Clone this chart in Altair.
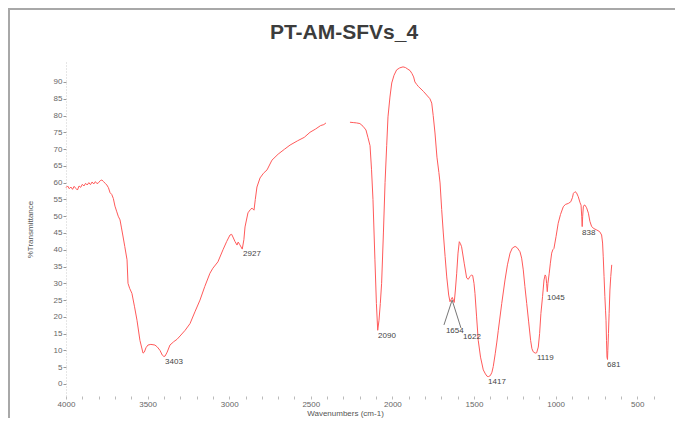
import altair as alt
import pandas as pd

# ---- spectrum data (wavenumber cm-1, %T), two segments (gap ~2400-2260) ----
wn1 = [4000, 3990, 3980, 3970, 3960, 3950, 3940, 3930, 3920, 3910, 3900, 3890, 3880, 3870,
       3860, 3850, 3840, 3830, 3820, 3810, 3800, 3790, 3780, 3770, 3760, 3750, 3740, 3730,
       3720, 3710, 3700, 3690, 3680, 3669, 3660, 3650, 3640, 3626, 3620, 3610, 3596, 3580,
       3565, 3547, 3528, 3520, 3510, 3498, 3480, 3455, 3440, 3424, 3410, 3400, 3393, 3380,
       3363, 3340, 3320, 3301, 3270, 3240, 3210, 3179, 3150, 3118, 3100, 3069, 3038, 3015,
       2995, 2985, 2977, 2965, 2952, 2945, 2935, 2920, 2910, 2903, 2885, 2870, 2860, 2848,
       2840, 2830, 2811, 2790, 2768, 2738, 2700, 2660, 2627, 2580, 2540, 2505, 2470, 2440,
       2420, 2407]
t1 = [58.5, 59.0, 58.2, 58.7, 58.0, 58.9, 58.3, 57.8, 59.0, 58.6, 59.5, 59.0, 59.8, 59.3,
      60.0, 59.4, 60.2, 59.6, 60.3, 59.7, 60.0, 60.6, 60.8, 60.3, 59.8, 59.3, 58.5, 57.0,
      56.5, 55.3, 53.0, 51.5, 50.0, 48.9, 46.5, 43.8, 41.0, 37.0, 30.0, 28.5, 27.0, 23.0,
      19.0, 13.0, 9.2, 9.5, 10.8, 11.6, 11.8, 11.6, 11.0, 10.0, 8.6, 8.2, 8.3, 9.5,
      11.6, 12.6, 13.3, 14.3, 16.0, 18.0, 21.5, 25.0, 29.0, 33.0, 34.5, 36.4, 40.0, 42.5,
      44.4, 44.6, 43.8, 42.5, 41.4, 42.3, 41.5, 40.2, 43.0, 46.8, 51.0, 52.0, 52.4, 51.8,
      55.0, 58.7, 61.4, 62.8, 63.8, 66.7, 68.5, 70.0, 71.2, 72.5, 73.5, 75.0, 76.0, 77.0,
      77.3, 77.8]

wn2 = [2260, 2240, 2220, 2199, 2180, 2162, 2150, 2137, 2128, 2119, 2107, 2098, 2090, 2082,
       2074, 2066, 2055, 2045, 2035, 2027, 2015, 2004, 1990, 1974, 1955, 1935, 1920, 1905,
       1892, 1880, 1870, 1862, 1850, 1840, 1831, 1810, 1790, 1770, 1759, 1750, 1739, 1727,
       1715, 1708, 1698, 1688, 1677, 1667, 1655, 1647, 1640, 1633, 1627, 1621, 1614, 1606,
       1598, 1590, 1583, 1576, 1560, 1545, 1535, 1525, 1515, 1508, 1500, 1494, 1484, 1474,
       1460, 1443, 1430, 1420, 1412, 1400, 1390, 1382, 1370, 1360, 1351, 1330, 1310, 1295,
       1279, 1265, 1248, 1235, 1218, 1208, 1198, 1188, 1177, 1165, 1153, 1145, 1137, 1125,
       1116, 1106, 1098, 1090, 1080, 1071, 1064, 1059, 1055, 1051, 1047, 1039, 1032, 1024,
       1017, 1010, 997, 984, 970, 953, 940, 922, 907, 897, 891, 881, 872, 861,
       850, 844, 840, 837, 834, 830, 825, 820, 810, 799, 790, 779, 765, 748,
       730, 718, 712, 708, 703, 698, 694, 691, 688, 685, 682, 680, 676, 672,
       667, 662, 656]
t2 = [78.0, 77.9, 77.8, 77.6, 76.8, 75.7, 73.5, 71.0, 64.0, 55.0, 37.0, 24.0, 16.0, 19.0,
      24.0, 30.0, 45.0, 60.0, 71.0, 79.6, 85.5, 89.7, 92.0, 93.6, 94.2, 94.5, 94.3, 93.8,
      93.4, 92.5, 91.5, 90.0, 89.2, 88.6, 88.2, 87.2, 86.1, 85.0, 83.7, 80.0, 74.8, 67.6,
      63.0, 59.9, 52.0, 45.0, 38.0, 31.9, 26.5, 24.5, 25.2, 25.8, 25.0, 24.3, 28.0, 33.0,
      39.0, 42.4, 41.8, 40.9, 36.0, 31.6, 31.2, 32.0, 32.5, 32.3, 30.0, 27.0, 20.0, 13.0,
      8.0, 4.2, 3.0, 2.3, 2.2, 2.5, 3.5, 5.2, 9.0, 12.5, 16.0, 24.0, 31.0, 35.5,
      39.0, 40.5, 41.0, 40.6, 39.4, 37.5, 34.0, 29.0, 24.0, 18.5, 13.0, 10.5, 9.6, 9.2,
      9.3, 11.0, 15.0, 21.0, 26.0, 31.0, 32.5, 32.0, 30.0, 27.5, 30.0, 33.0, 36.0, 39.0,
      40.0, 40.4, 44.0, 47.9, 50.5, 52.8, 53.5, 53.8, 54.3, 55.5, 56.8, 57.3, 57.0, 55.8,
      54.0, 53.3, 50.0, 46.9, 50.0, 52.8, 53.3, 53.3, 52.5, 50.9, 48.5, 46.9, 46.3, 45.9,
      45.4, 44.4, 42.0, 37.9, 32.0, 26.0, 22.0, 19.0, 13.0, 8.0, 7.3, 10.0, 15.0, 21.0,
      28.0, 32.0, 35.5]

# ---- peak labels ----
peak_text = ["3403", "2927", "2090", "1654", "1622", "1417", "1119", "1045", "838", "681"]
peak_wn = [3393, 2915, 2088, 1672, 1567, 1414, 1114, 1053, 838, 685]
peak_t = [6.6, 38.7, 14.3, 15.8, 14.0, 0.6, 7.7, 25.6, 45.0, 5.7]

# leader lines for 1654 / 1622
lead_wn = [1634, 1634]
lead_t = [25.0, 25.0]
lead_wn2 = [1684, 1580]
lead_t2 = [17.6, 16.7]

x_ticks = list(range(400, 4001, 100))
y_ticks = list(range(0, 91, 5))

df = pd.DataFrame({
    "wn": wn1 + wn2,
    "T": t1 + t2,
    "seg": ["a"] * len(wn1) + ["b"] * len(wn2),
})
labels = pd.DataFrame({"label": peak_text, "wn": peak_wn, "T": peak_t})
leads = pd.DataFrame({"wn": lead_wn, "T": lead_t, "wn2": lead_wn2, "T2": lead_t2})

FONT = "Liberation Sans"

xscale = alt.Scale(domain=[397, 4000], reverse=True, nice=False, zero=False)
yscale = alt.Scale(domain=[-3.58, 95.95], nice=False, zero=False)

xaxis = alt.Axis(
    values=x_ticks,
    labelExpr="datum.value % 500 == 0 ? datum.label : ''",
    format="d", labelOverlap=False, labelFlush=False,
    grid=False, domain=False,
    tickSize=3, tickColor="#bbbbbb", tickWidth=1,
    labelFontSize=8, labelColor="#666666", labelFont=FONT, labelPadding=1,
    title="Wavenumbers (cm-1)", titleFontSize=8, titleFontWeight="normal",
    titleColor="#555555", titleFont=FONT, titleX=279, titleY=17,
    titleBaseline="middle", titleAnchor="middle",
)
yaxis = alt.Axis(
    values=y_ticks, labelOverlap=False, labelFlush=False,
    grid=False, domain=True, domainColor="#cccccc", domainDash=[1, 2],
    tickSize=3, tickColor="#999999",
    labelFontSize=8, labelColor="#666666", labelFont=FONT, labelPadding=1,
    title="%Transmittance", titleFontSize=8, titleFontWeight="normal",
    titleColor="#555555", titleFont=FONT, titleX=-36, titleY=167,
    titleBaseline="middle", titleAnchor="middle",
)

X = lambda f: alt.X(f, scale=xscale, axis=xaxis)
Y = lambda f: alt.Y(f, scale=yscale, axis=yaxis)

line = alt.Chart(df).mark_line(color="#ff5a5a", strokeWidth=1).encode(
    x=X("wn:Q"),
    y=Y("T:Q"),
    detail="seg:N",
    order="idx:Q",
).transform_window(idx="row_number()")

text = alt.Chart(labels).mark_text(
    align="left", baseline="middle", fontSize=8, font=FONT, color="#444444"
).encode(x=X("wn:Q"), y=Y("T:Q"), text="label:N")

lead = alt.Chart(leads).mark_rule(color="#777777", strokeWidth=1).encode(
    x=X("wn:Q"), y=Y("T:Q"),
    x2="wn2:Q", y2="T2:Q",
)

frame_df = pd.DataFrame({"k": [0]})
left_border = alt.Chart(frame_df).mark_rule(color="#a8a8a8", strokeWidth=2).encode(
    x=alt.value(-57), y=alt.value(-53), y2=alt.value(360)
)
top_border = alt.Chart(frame_df).mark_rule(color="#a8a8a8", strokeWidth=2).encode(
    x=alt.value(-58), x2=alt.value(612), y=alt.value(-53)
)

chart = alt.layer(line, text, lead, left_border, top_border).properties(
    width=588, height=334,
    title=alt.TitleParams(
        "PT-AM-SFVs_4", fontSize=21, font=FONT, fontWeight="bold",
        color="#3c3c3c", anchor="middle", dx=-16, offset=0, dy=52,
        baseline="alphabetic",
    ),
    autosize=alt.AutoSizeParams(type="none"),
    padding={"left": 58, "top": 54, "right": 21, "bottom": 22},
    background="white",
).configure_view(stroke=None)

chart.save("out.html", embed_options={"renderer": "svg", "actions": False})
